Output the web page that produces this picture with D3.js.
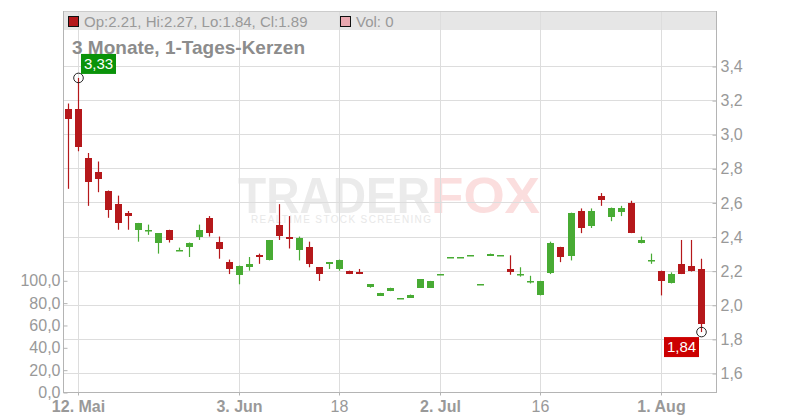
<!DOCTYPE html>
<html><head><meta charset="utf-8">
<script src="https://cdn.jsdelivr.net/npm/d3@7/dist/d3.min.js"></script>
<style>
html,body{margin:0;padding:0;background:#fff;}
svg{display:block;font-family:"Liberation Sans",Arial,sans-serif;}
</style></head>
<body>
<svg id="c" width="800" height="420"></svg>
<script>
// ---------- data ----------
const dates = ["2025-05-09","2025-05-12","2025-05-13","2025-05-14","2025-05-15","2025-05-16","2025-05-19","2025-05-20","2025-05-21","2025-05-22","2025-05-23","2025-05-26","2025-05-27","2025-05-28","2025-05-29","2025-05-30","2025-06-02","2025-06-03","2025-06-04","2025-06-05","2025-06-06","2025-06-10","2025-06-11","2025-06-12","2025-06-13","2025-06-16","2025-06-17","2025-06-18","2025-06-19","2025-06-20","2025-06-23","2025-06-24","2025-06-25","2025-06-26","2025-06-27","2025-06-30","2025-07-01","2025-07-02","2025-07-03","2025-07-04","2025-07-07","2025-07-08","2025-07-09","2025-07-10","2025-07-11","2025-07-14","2025-07-15","2025-07-16","2025-07-17","2025-07-18","2025-07-21","2025-07-22","2025-07-23","2025-07-24","2025-07-25","2025-07-28","2025-07-29","2025-07-30","2025-07-31","2025-08-01","2025-08-04","2025-08-05","2025-08-06","2025-08-07"];
const open  = [3.15,3.15,2.86,2.78,2.67,2.59,2.54,2.44,2.435,2.36,2.44,2.32,2.34,2.40,2.51,2.37,2.25,2.18,2.22,2.29,2.26,2.465,2.40,2.32,2.34,2.22,2.24,2.21,2.20,2.19,2.10,2.055,2.08,2.04,2.04,2.10,2.10,2.18,2.28,2.28,2.29,2.12,2.29,2.29,2.21,2.18,2.14,2.055,2.19,2.34,2.29,2.55,2.46,2.635,2.51,2.54,2.595,2.36,2.26,2.20,2.125,2.24,2.225,2.21];
const high  = [3.18,3.33,2.89,2.84,2.67,2.64,2.55,2.48,2.47,2.42,2.44,2.335,2.365,2.47,2.52,2.40,2.265,2.23,2.28,2.30,2.38,2.59,2.52,2.40,2.37,2.22,2.25,2.265,2.20,2.21,2.12,2.07,2.10,2.04,2.06,2.15,2.14,2.18,2.28,2.28,2.29,2.12,2.30,2.29,2.29,2.22,2.17,2.14,2.37,2.34,2.54,2.565,2.565,2.655,2.57,2.58,2.61,2.40,2.30,2.20,2.19,2.38,2.38,2.27];
const low   = [2.68,2.90,2.58,2.66,2.51,2.44,2.44,2.37,2.41,2.30,2.365,2.32,2.28,2.38,2.40,2.27,2.18,2.12,2.20,2.24,2.26,2.38,2.33,2.26,2.22,2.14,2.21,2.20,2.18,2.18,2.10,2.055,2.08,2.04,2.04,2.10,2.10,2.18,2.28,2.28,2.29,2.12,2.29,2.29,2.176,2.165,2.125,2.055,2.18,2.25,2.26,2.42,2.45,2.58,2.49,2.52,2.42,2.36,2.24,2.055,2.125,2.18,2.195,1.84];
const close = [3.09,2.93,2.72,2.74,2.56,2.48,2.52,2.48,2.44,2.42,2.38,2.32,2.365,2.44,2.42,2.33,2.21,2.23,2.24,2.28,2.38,2.40,2.39,2.39,2.24,2.18,2.25,2.265,2.18,2.18,2.12,2.07,2.10,2.04,2.06,2.15,2.14,2.18,2.28,2.28,2.29,2.12,2.30,2.29,2.195,2.18,2.14,2.14,2.365,2.28,2.54,2.45,2.55,2.61,2.565,2.565,2.42,2.38,2.26,2.14,2.18,2.18,2.195,1.89];
const volume = dates.map(() => 0);
const priceTicks = [1.6,1.8,2.0,2.2,2.4,2.6,2.8,3.0,3.2,3.4];
const volumeTicks = [0,20,40,60,80,100];
const tickDates  = ["2025-05-12","2025-06-03","2025-06-18","2025-07-02","2025-07-16","2025-08-01"];
const tickLabels = ["12. Mai","3. Jun","18","2. Jul","16","1. Aug"];
const tickBold   = [true,true,false,true,false,true];
const titleText = "3 Monate, 1-Tages-Kerzen";

// ---------- layout ----------
const svg = d3.select("#c");
const L = 63, R = 716, T = 11, B = 392;
const UP = "#48ab34", DOWN = "#b5181b", GRID = "#dddddd", AXIS = "#b4b4b4", TXT = "#999999";
const de = d3.formatLocale({decimal:",",thousands:".",grouping:[3],currency:["","€"]});
const f1 = de.format(".1f"), f2 = de.format(".2f");

const x = d3.scaleLinear().domain([0, dates.length-1]).range([68.5, 701.7]);
const y = d3.scaleLinear().domain([1.6, 3.4]).range([373, 66]);
const yv = d3.scaleLinear().domain([0, 100]).range([B, 280.3]);

// legend bar
svg.append("rect").attr("x",L).attr("y",T).attr("width",R-L).attr("height",19).attr("fill","#e6e6e6");

// watermark
const wm = svg.append("g").attr("font-weight","bold");
wm.append("text").attr("x",238).attr("y",213).attr("font-size",50).attr("fill","#ebebeb")
  .attr("textLength",192).attr("lengthAdjust","spacingAndGlyphs").text("TRADER");
wm.append("text").attr("x",431).attr("y",213).attr("font-size",50).attr("fill","#fbdede")
  .attr("textLength",109).attr("lengthAdjust","spacingAndGlyphs").text("FOX");
svg.append("text").attr("x",251).attr("y",223).attr("font-size",10).attr("fill","#e8e8e8")
  .attr("textLength",180).attr("lengthAdjust","spacing").text("REALTIME STOCK SCREENING");

// grid
const tickIdx = tickDates.map(d => dates.indexOf(d));
svg.append("g").selectAll("line").data(priceTicks).join("line")
  .attr("x1",L).attr("x2",R).attr("y1",d=>Math.round(y(d))+0.5).attr("y2",d=>Math.round(y(d))+0.5)
  .attr("stroke",GRID);
svg.append("g").selectAll("line").data(tickIdx).join("line")
  .attr("x1",d=>Math.floor(x(d))+0.5).attr("x2",d=>Math.floor(x(d))+0.5).attr("y1",T).attr("y2",B)
  .attr("stroke",GRID);

// frame
svg.append("line").attr("x1",L).attr("x2",R).attr("y1",T+0.5).attr("y2",T+0.5).attr("stroke","#cccccc");
svg.append("line").attr("x1",L+0.5).attr("x2",L+0.5).attr("y1",T).attr("y2",B).attr("stroke",AXIS);
svg.append("line").attr("x1",R+0.5).attr("x2",R+0.5).attr("y1",T).attr("y2",B).attr("stroke",AXIS);
svg.append("line").attr("x1",L).attr("x2",R+1).attr("y1",B+0.5).attr("y2",B+0.5).attr("stroke",AXIS);

// axes
function styleAxis(g){
  g.select(".domain").remove();
  g.selectAll(".tick line").attr("stroke",AXIS);
  g.selectAll(".tick text").attr("fill",TXT).attr("font-size",16).attr("font-family","Liberation Sans, Arial, sans-serif");
}
svg.append("g").attr("transform",`translate(${R+0.5},0.5)`)
  .call(d3.axisRight(y).tickValues(priceTicks).tickFormat(f1).tickSizeInner(-4).tickSizeOuter(0).tickPadding(4))
  .call(styleAxis);
svg.append("g").attr("transform",`translate(${L+0.5},0.5)`)
  .call(d3.axisLeft(yv).tickValues(volumeTicks).tickFormat(f1).tickSizeInner(-4).tickSizeOuter(0).tickPadding(3))
  .call(styleAxis);
const xa = svg.append("g").attr("transform",`translate(0,${B+0.5})`)
  .call(d3.axisBottom(x).tickValues(tickIdx).tickFormat((d,i)=>tickLabels[i]).tickSizeInner(3).tickSizeOuter(0).tickPadding(5))
  .call(styleAxis);
xa.selectAll(".tick").attr("transform",d=>`translate(${Math.floor(x(d))+0.5},0)`);
xa.selectAll(".tick text").attr("font-weight",(d,i)=>tickBold[i]?"bold":"normal");

// volume bars (all zero)
svg.append("g").selectAll("rect").data(volume).join("rect")
  .attr("x",(d,i)=>x(i)-3.5).attr("width",7).attr("y",d=>yv(d)).attr("height",d=>B-yv(d)).attr("fill","#e8a9b0");

// candles
const candles = svg.append("g").selectAll("g").data(dates.map((d,i)=>i)).join("g");
candles.append("line")
  .attr("x1",i=>Math.floor(x(i))+0.5).attr("x2",i=>Math.floor(x(i))+0.5)
  .attr("y1",i=>y(high[i])).attr("y2",i=>y(low[i]))
  .attr("stroke",i=>close[i]>=open[i]?UP:DOWN).attr("stroke-width",1.2);
candles.append("rect")
  .attr("x",i=>Math.floor(x(i))-3).attr("width",7)
  .attr("y",i=>Math.round(y(Math.max(open[i],close[i]))))
  .attr("height",i=>Math.max(1.5,Math.round(Math.abs(y(open[i])-y(close[i])))))
  .attr("fill",i=>close[i]>=open[i]?UP:DOWN);

// high / low markers
const iHi = d3.maxIndex(high), iLo = d3.minIndex(low);
function marker(i, v, isHigh){
  const cx = Math.floor(x(i))+0.5, cy = y(v);
  svg.append("circle").attr("cx",cx).attr("cy",cy).attr("r",4.8).attr("fill","none").attr("stroke","#222").attr("stroke-width",1);
  const w = 35, h = 20;
  const bx = isHigh ? cx+2.5 : cx-2.5-w;
  const by = isHigh ? cy-24 : cy+5;
  svg.append("rect").attr("x",bx).attr("y",by).attr("width",w).attr("height",h).attr("fill",isHigh?"#0a930a":"#cc0000");
  svg.append("text").attr("x",bx+w/2).attr("y",by+h/2).attr("dy","0.36em").attr("text-anchor","middle")
    .attr("fill","#fff").attr("font-size",15).text(f2(v));
}
marker(iHi, high[iHi], true);
marker(iLo, low[iLo], false);

// legend
const last = dates.length-1;
svg.append("rect").attr("x",68.5).attr("y",16.5).attr("width",10).attr("height",10).attr("fill",DOWN).attr("stroke","#111");
svg.append("text").attr("x",84).attr("y",26.5).attr("font-size",15).attr("fill",TXT)
  .text(`Op:${open[last]}, Hi:${high[last]}, Lo:${low[last]}, Cl:${close[last]}`);
svg.append("rect").attr("x",340.5).attr("y",16.5).attr("width",10).attr("height",10).attr("fill","#eaa8b0").attr("stroke","#111");
svg.append("text").attr("x",356).attr("y",26.5).attr("font-size",15).attr("fill",TXT).text(`Vol: ${volume[last]}`);

// title
svg.append("text").attr("x",72).attr("y",54).attr("font-size",19).attr("font-weight","bold").attr("fill","#8c8c8c").text(titleText);
</script>
</body></html>
